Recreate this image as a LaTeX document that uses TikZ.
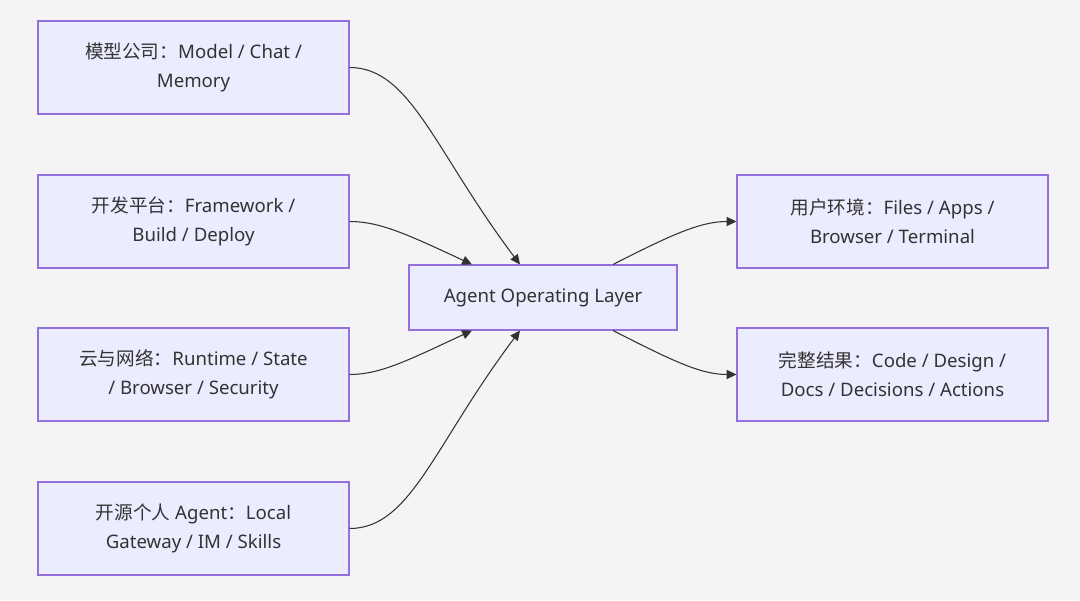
\documentclass[tikz,border=0pt]{standalone}
\usepackage{fontspec}
\setmainfont{Noto Sans}
\newfontfamily\cjk{Noto Sans CJK SC}
\usetikzlibrary{arrows.meta}

\begin{document}
\begin{tikzpicture}[
    layerbox/.style={draw=r147g112b219, fill=r236g236b255, line width=0.6pt,
      text=r51g51b51, align=center, inner sep=0pt,
      font=\fontsize{10.6}{16.5}\selectfont},
    sidebox/.style={layerbox, minimum width=6.22cm, minimum height=1.86cm},
    corebox/.style={layerbox, minimum width=5.36cm, minimum height=1.30cm},
    flow/.style={draw=r51g51b51, line width=0.6pt,
      -{Triangle[length=5.6pt,width=5.2pt]}}
  ]
                            % Changing color 244 244 246
                            \definecolor{r244g244b246}{rgb}{0.956863,0.956863,0.964706}%
                            \definecolor{r236g236b255}{rgb}{0.925490,0.925490,1.000000}%
                            \definecolor{r147g112b219}{rgb}{0.576471,0.439216,0.858824}%
                            \definecolor{r51g51b51}{rgb}{0.200000,0.200000,0.200000}%

                            % Filling background
                            \fill [r244g244b246] (0.000000,0.000000) rectangle (21.600000,12.000000);%
                            \useasboundingbox (0.000000,0.000000) rectangle (21.600000,12.000000);%

                            % Drawing left boxes
                            \node [sidebox] (model) at (3.870000,10.650000) {{\cjk 模型公司：}Model / Chat /\\Memory};%
                            \node [sidebox] (platform) at (3.870000,7.570000) {{\cjk 开发平台：}Framework /\\Build / Deploy};%
                            \node [sidebox] (cloud) at (3.870000,4.510000) {{\cjk 云与网络：}Runtime / State\\/ Browser / Security};%
                            \node [sidebox] (opensrc) at (3.870000,1.430000) {{\cjk 开源个人} Agent{\cjk ：}Local\\Gateway / IM / Skills};%

                            % Drawing middle box
                            \node [corebox] (core) at (10.860000,6.050000) {Agent Operating Layer};%

                            % Drawing right boxes
                            \node [sidebox] (userenv) at (17.850000,7.570000) {{\cjk 用户环境：}Files / Apps /\\Browser / Terminal};%
                            \node [sidebox] (result) at (17.850000,4.510000) {{\cjk 完整结果：}Code / Design /\\Docs / Decisions / Actions};%

                            % Drawing incoming curves
                            \draw [flow] (model.east) to [out=0, in=127, out looseness=0.6, in looseness=1.4] ([xshift=-0.460000cm]core.north);%
                            \draw [flow] (platform.east) to [out=0, in=155, out looseness=0.6, in looseness=1.4] ([xshift=-1.420000cm]core.north);%
                            \draw [flow] (cloud.east) to [out=0, in=205, out looseness=0.6, in looseness=1.4] ([xshift=-1.420000cm]core.south);%
                            \draw [flow] (opensrc.east) to [out=0, in=233, out looseness=0.6, in looseness=1.4] ([xshift=-0.460000cm]core.south);%

                            % Drawing outgoing curves
                            \draw [flow] ([xshift=1.400000cm]core.north) to [out=27, in=180, out looseness=1.3, in looseness=0.7] (userenv.west);%
                            \draw [flow] ([xshift=1.400000cm]core.south) to [out=-27, in=180, out looseness=1.3, in looseness=0.7] (result.west);%
\end{tikzpicture}
\end{document}
